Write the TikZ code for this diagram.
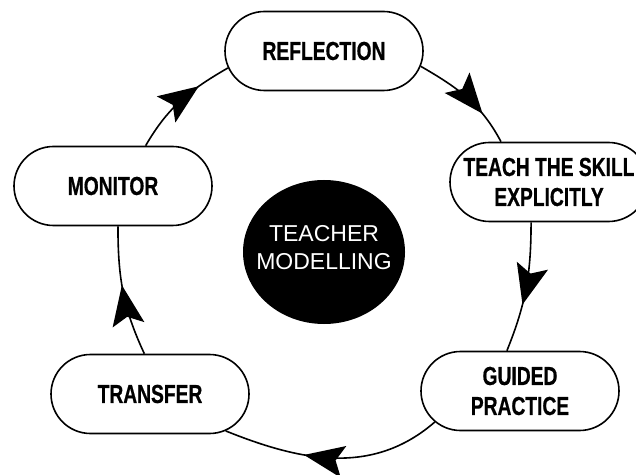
\documentclass[tikz,border=0pt]{standalone}
\usepackage{fontspec}
\setmainfont{Liberation Sans}
\newfontfamily\boxfont[FakeStretch = 0.74, FakeBold = 0.6]{Liberation Sans}
\usetikzlibrary{shapes.misc, shapes.geometric, arrows.meta, decorations.markings}

\tikzset{
	stage/.style = {draw, line width = 1.6pt, rounded rectangle, minimum width = 198pt, minimum height = 79pt, inner sep = 0pt, align = center, font = \boxfont\bfseries\fontsize{26}{30}\selectfont},
	loop arrow/.style = {line width = 1.6pt, postaction = {decorate}, decoration = {markings, mark = at position #1 with {\arrow{Stealth[length = 40pt, width = 32pt, inset = 8pt]}}}}
}

\begin{document}
\begin{tikzpicture}[x = 1pt, y = 1pt]
	\clip (0, 0) rectangle (636, 474);
	\fill[white] (0, 0) rectangle (636, 474);
	
	\node[stage] (reflection) at (324, 423) {REFLECTION};
	\node[stage] (teach) at (549, 292) {TEACH THE SKILL\\EXPLICITLY};
	\node[stage] (guided) at (520, 83) {GUIDED\\PRACTICE};
	\node[stage] (transfer) at (150, 80) {TRANSFER};
	\node[stage] (monitor) at (113, 288) {MONITOR};
	\node[fill = black, ellipse, minimum width = 162pt, minimum height = 144pt, label = {[yshift = 4pt, align = center, text = white, font = \fontsize{23}{28}\selectfont]center:TEACHER\\MODELLING}] (model) at (324, 222) {};
	
	\draw[loop arrow = 0.7] (reflection.-9) to[out = -30, in = 118] (teach.140);
	\draw[loop arrow = 0.63] (teach.-114) to[out = -90, in = 68] (guided.108);
	\draw[loop arrow = 0.63] (guided.200) to[out = 221, in = -22] (transfer.-26);
	\draw[loop arrow = 0.55] (transfer.98) to[out = 115, in = -90] (monitor.-83);
	\draw[loop arrow = 0.7] (monitor.51) to[out = 60, in = 210] (reflection.190);
\end{tikzpicture}
\end{document}
